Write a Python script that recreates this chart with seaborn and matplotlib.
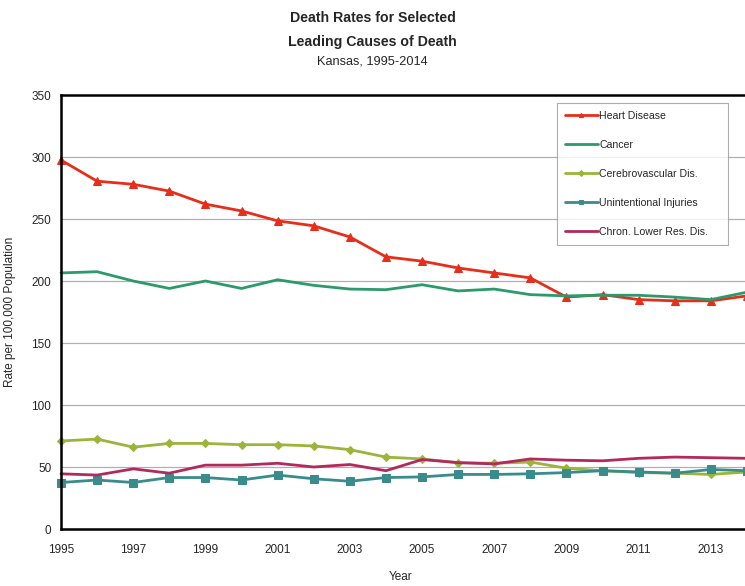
import pandas as pd
import seaborn as sns
import matplotlib.pyplot as plt

years = list(range(1995, 2015))
heart = [297.5, 280.5, 278, 272.5, 262, 256.5, 248.5, 244.5, 235.5, 219.5,
         216, 210.5, 206.5, 202.5, 187, 189, 185, 184, 184, 188]
cancer = [206.5, 207.5, 200, 194, 200, 194, 201, 196.5, 193.5, 193,
          197, 192, 193.5, 189, 188, 188.5, 188.5, 187, 185, 191]
cerebro = [71, 72.5, 66, 69, 69, 68, 68, 67, 64, 58,
           56.5, 53.5, 53, 54, 49, 47, 45.5, 45, 44, 46]
injuries = [37.5, 39.5, 37.5, 41.5, 41.5, 39.5, 43.5, 40.5, 38.5, 41.5,
            42, 44, 44, 44.5, 45.5, 47, 46, 45, 48, 47]
chron = [44.5, 43.5, 48.5, 45, 51.5, 51.5, 53, 50, 52, 47,
         56, 53.5, 52.5, 56.5, 55.5, 55, 57, 58, 57.5, 57]

series = [
    ('Heart Disease', heart, '#e62e1b', '^', 6),
    ('Cancer', cancer, '#2c9a6a', None, 0),
    ('Cerebrovascular Dis.', cerebro, '#9bb53a', 'D', 4),
    ('Unintentional Injuries', injuries, '#3a8c8c', 's', 6),
    ('Chron. Lower Res. Dis.', chron, '#b22a5c', None, 0),
]

sns.set_style('white')
plt.rcParams['font.family'] = ['Liberation Sans', 'DejaVu Sans']

fig = plt.figure(figsize=(7.45, 5.86), dpi=100)
ax = fig.add_axes([61 / 745, 57 / 586, 686 / 745, 434 / 586])

for name, vals, color, marker, ms in series:
    df = pd.DataFrame({'Year': years, 'Rate': vals})
    sns.lineplot(data=df, x='Year', y='Rate', ax=ax, color=color, linewidth=2,
                 marker=marker, markersize=ms, markeredgecolor=color,
                 label=name, clip_on=False)

ax.set_xlim(1995, 2014)
ax.set_ylim(0, 350)
ax.set_xticks(range(1995, 2014, 2))
ax.set_yticks(range(0, 351, 50))
ax.yaxis.grid(True, color='#b0b0b0', linewidth=0.9)
ax.set_axisbelow(True)
ax.tick_params(axis='x', length=0, labelsize=8.5, pad=11)
ax.tick_params(axis='y', length=0, labelsize=8.5, pad=7)
for side in ['left', 'bottom', 'top']:
    ax.spines[side].set_color('black')
    ax.spines[side].set_linewidth(1.8)
ax.spines['right'].set_visible(False)

ax.set_xlabel('Year', fontsize=8.5)
ax.xaxis.set_label_coords((401 - 61) / 686, -(571 - 529) / 434)
ax.set_ylabel('Rate per 100,000 Population', fontsize=8.5)
ax.yaxis.set_label_coords(-(61 - 16) / 686, 0.5)

fig.text(0.5, 1 - 18 / 586, 'Death Rates for Selected', ha='center', va='center',
         fontsize=10.2, fontweight='bold')
fig.text(0.5, 1 - 42 / 586, 'Leading Causes of Death', ha='center', va='center',
         fontsize=10.2, fontweight='bold')
fig.text(0.5, 1 - 62 / 586, 'Kansas, 1995-2014', ha='center', va='center',
         fontsize=9.2)

x0 = (557 - 61) / 686
w = (728 - 557) / 686
top = (529 - 103) / 434
leg = ax.legend(loc='upper left', bbox_to_anchor=(x0, top - 0.5, w, 0.5),
                mode='expand', fontsize=7.6,
                frameon=True, fancybox=False, edgecolor='#999999',
                labelspacing=1.8, handlelength=3.1, handletextpad=0.15,
                borderpad=0.75, borderaxespad=0)
leg.get_frame().set_linewidth(0.8)
for line in leg.get_lines():
    line.set_markersize(3)

fig.savefig('out.png', dpi=100)
